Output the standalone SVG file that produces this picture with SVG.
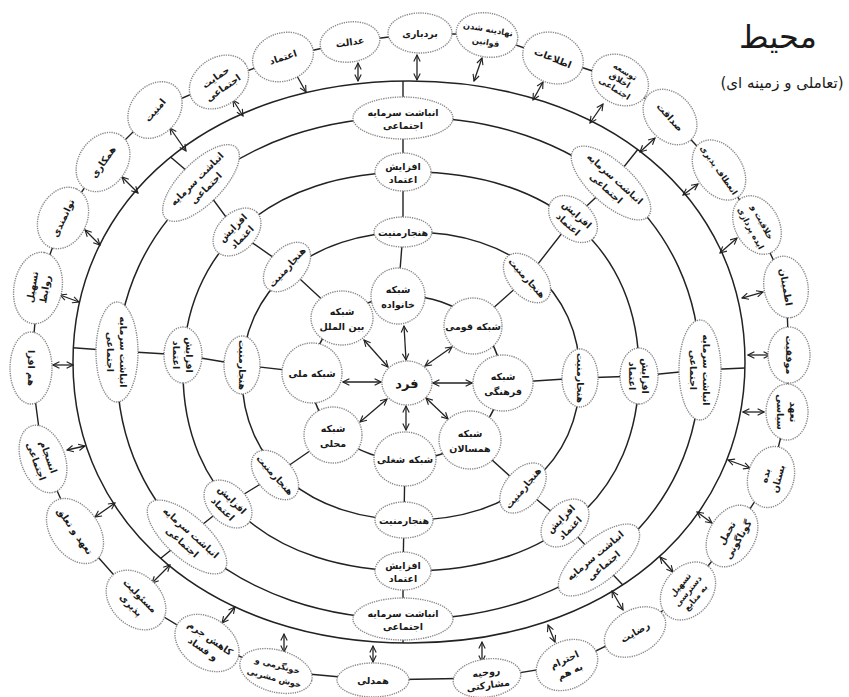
<svg xmlns="http://www.w3.org/2000/svg" width="849" height="697" viewBox="0 0 849 697">
<style>
.ring{fill:none;stroke:#222;stroke-width:1.5}
.ln{fill:none;stroke:#222;stroke-width:1.4}
.arr{fill:none;stroke:#222;stroke-width:1.3;marker-start:url(#ah);marker-end:url(#ah)}
.n ellipse{fill:#fff;stroke:#8a8a8a;stroke-width:1.4;stroke-dasharray:1.3 1}
.n text{font-family:"DejaVu Sans",sans-serif;font-weight:bold;font-size:9.5px;fill:#1a1a1a;text-anchor:middle;dominant-baseline:central}
.n text.big{font-size:13px}
.n text.sm{font-size:8.3px}
.ttl{font-family:"DejaVu Sans",sans-serif;fill:#1a1a1a;text-anchor:middle}
</style>
<defs>
<marker id="ah" viewBox="0 0 10 10" refX="9" refY="5" markerWidth="8" markerHeight="8" markerUnits="userSpaceOnUse" orient="auto-start-reverse">
<path d="M1,1 L9,5 L1,9" fill="none" stroke="#222" stroke-width="1.4"/>
</marker>
<clipPath id="outerClip"><path d="M745,362 C745,526.4 605.6,643 409,643 C212.4,643 73,526.4 73,362 C73,197.6 212.4,81 409,81 C605.6,81 745,197.6 745,362Z"/></clipPath>
</defs>
<rect width="849" height="697" fill="#fff"/>

<g id="title">
<text class="ttl" x="778" y="48" font-size="32">محیط</text>
<text class="ttl" x="782" y="88" font-size="15" direction="rtl">(تعاملی و زمینه ای)</text>
</g>

<g id="rings">
<path class="ring" d="M745,362 C745,526.4 605.6,643 409,643 C212.4,643 73,526.4 73,362 C73,197.6 212.4,81 409,81 C605.6,81 745,197.6 745,362Z"/>
<path class="ring" d="M700,368 C700,514.8 579,619 408.5,619 C238,619 117,514.8 117,368 C117,221.2 238,117 408.5,117 C579,117 700,221.2 700,368Z"/>
<path class="ring" d="M639,371.5 C639,494.2 551.2,571 411,571 C270.8,571 183,494.2 183,371.5 C183,248.8 270.8,172 411,172 C551.2,172 639,248.8 639,371.5Z"/>
<path class="ring" d="M580,376 C580,462.4 512.4,520 411,520 C309.6,520 242,462.4 242,376 C242,289.6 309.6,232 411,232 C512.4,232 580,289.6 580,376Z"/>
<ellipse class="ring" cx="406" cy="378" rx="95" ry="82"/>
</g>

<g id="connectors">
<polygon class="ln" points="420,33 487,35 553,58 620,80 670,117 719,170 757,225 786,287 789,355 787,412 771,477 732,536 688,591 635,632 567,665 487,678 373,680 276,671 207,643 136,600 75,531 43,459 31,368 38,288 63,218 103,162 155,110 219,82 283,57 350,42"/>
<g clip-path="url(#outerClip)">
<polyline class="ln" points="403,60 403,117 403,172 403,232 398,296"/>
<polyline class="ln" points="655,128 611,183 573,219 527,278 473,326"/>
<polyline class="ln" points="770,367 700,370 639,376 580,378 503,383"/>
<polyline class="ln" points="640,603 599,560 565,523 523,488 470,440"/>
<polyline class="ln" points="403,665 403,619 403,571 404,520 405,459"/>
<polyline class="ln" points="150,567 187,537 228,504 275,475 333,435"/>
<polyline class="ln" points="50,346 117,351 183,355 242,365 312,373"/>
<polyline class="ln" points="160,148 201,183 237,232 287,267 342,318"/>
</g>
<path class="arr" d="M417,55 L417,80"/>
<path class="arr" d="M482,58 L474,81"/>
<path class="arr" d="M543,82 L533,100"/>
<path class="arr" d="M603,104 L590,123"/>
<path class="arr" d="M655,138 L640,152"/>
<path class="arr" d="M698,184 L683,195"/>
<path class="arr" d="M737,238 L720,253"/>
<path class="arr" d="M763,292 L742,298"/>
<path class="arr" d="M770,355 L748,355"/>
<path class="arr" d="M764,412 L743,412"/>
<path class="arr" d="M750,468 L728,460"/>
<path class="arr" d="M712,523 L697,512"/>
<path class="arr" d="M673,572 L660,557"/>
<path class="arr" d="M623,610 L612,591"/>
<path class="arr" d="M555,642 L548,625"/>
<path class="arr" d="M482,662 L482,642"/>
<path class="arr" d="M373,662 L373,646"/>
<path class="arr" d="M284,652 L284,634"/>
<path class="arr" d="M222,623 L235,607"/>
<path class="arr" d="M152,583 L170,565"/>
<path class="arr" d="M95,517 L115,503"/>
<path class="arr" d="M67,450 L85,446"/>
<path class="arr" d="M53,365 L73,365"/>
<path class="arr" d="M60,295 L79,302"/>
<path class="arr" d="M85,230 L100,245"/>
<path class="arr" d="M122,177 L138,193"/>
<path class="arr" d="M170,128 L186,151"/>
<path class="arr" d="M233,100 L243,116"/>
<path class="arr" d="M293,69 L306,92"/>
<path class="arr" d="M358,63 L358,81"/>
<path class="arr" d="M406,360 L404,326"/>
<path class="arr" d="M425,366 L452,347"/>
<path class="arr" d="M433,383 L472,383"/>
<path class="arr" d="M426,398 L448,419"/>
<path class="arr" d="M406,406 L406,430"/>
<path class="arr" d="M387,399 L360,422"/>
<path class="arr" d="M381,382 L343,382"/>
<path class="arr" d="M388,367 L364,340"/>
</g>

<!-- ring 2 -->
<g class="n" id="r2-t" transform="translate(403,118)"><ellipse rx="50" ry="21"/><text y="-6">انباشت سرمایه</text><text y="7">اجتماعی</text></g>
<g class="n" id="r2-ur" transform="translate(611,183) rotate(42)"><ellipse rx="50" ry="21"/><text y="-6">انباشت سرمایه</text><text y="7">اجتماعی</text></g>
<g class="n" id="r2-r" transform="translate(700,370) rotate(90)"><ellipse rx="50" ry="21"/><text y="-6">انباشت سرمایه</text><text y="7">اجتماعی</text></g>
<g class="n" id="r2-lr" transform="translate(599,560) rotate(-40)"><ellipse rx="50" ry="21"/><text y="-6">انباشت سرمایه</text><text y="7">اجتماعی</text></g>
<g class="n" id="r2-b" transform="translate(403,619)"><ellipse rx="50" ry="21"/><text y="-6">انباشت سرمایه</text><text y="7">اجتماعی</text></g>
<g class="n" id="r2-ll" transform="translate(187,537) rotate(42)"><ellipse rx="50" ry="21"/><text y="-6">انباشت سرمایه</text><text y="7">اجتماعی</text></g>
<g class="n" id="r2-l" transform="translate(117,352) rotate(90)"><ellipse rx="50" ry="21"/><text y="-6">انباشت سرمایه</text><text y="7">اجتماعی</text></g>
<g class="n" id="r2-ul" transform="translate(201,183) rotate(-45)"><ellipse rx="50" ry="21"/><text y="-6">انباشت سرمایه</text><text y="7">اجتماعی</text></g>

<!-- ring 3 -->
<g class="n" id="r3-t" transform="translate(403,172)"><ellipse rx="28" ry="19"/><text y="-6">افزایش</text><text y="7">اعتماد</text></g>
<g class="n" id="r3-ur" transform="translate(573,219) rotate(42)"><ellipse rx="28" ry="19"/><text y="-6">افزایش</text><text y="7">اعتماد</text></g>
<g class="n" id="r3-r" transform="translate(639,376) rotate(90)"><ellipse rx="28" ry="19"/><text y="-6">افزایش</text><text y="7">اعتماد</text></g>
<g class="n" id="r3-lr" transform="translate(565,523) rotate(-45)"><ellipse rx="28" ry="19"/><text y="-6">افزایش</text><text y="7">اعتماد</text></g>
<g class="n" id="r3-b" transform="translate(403,571)"><ellipse rx="28" ry="19"/><text y="-6">افزایش</text><text y="7">اعتماد</text></g>
<g class="n" id="r3-ll" transform="translate(228,504) rotate(45)"><ellipse rx="28" ry="19"/><text y="-6">افزایش</text><text y="7">اعتماد</text></g>
<g class="n" id="r3-l" transform="translate(183,355) rotate(90)"><ellipse rx="28" ry="19"/><text y="-6">افزایش</text><text y="7">اعتماد</text></g>
<g class="n" id="r3-ul" transform="translate(237,232) rotate(-45)"><ellipse rx="28" ry="19"/><text y="-6">افزایش</text><text y="7">اعتماد</text></g>

<!-- ring 4 -->
<g class="n" id="r4-t" transform="translate(403,232)"><ellipse rx="29" ry="15"/><text>هنجارمنیت</text></g>
<g class="n" id="r4-ur" transform="translate(527,278) rotate(48)"><ellipse rx="29" ry="18"/><text>هنجارمنیت</text></g>
<g class="n" id="r4-r" transform="translate(580,378) rotate(90)"><ellipse rx="29" ry="18"/><text>هنجارمنیت</text></g>
<g class="n" id="r4-lr" transform="translate(523,488) rotate(-50)"><ellipse rx="29" ry="18"/><text>هنجارمنیت</text></g>
<g class="n" id="r4-b" transform="translate(404,520)"><ellipse rx="29" ry="18"/><text>هنجارمنیت</text></g>
<g class="n" id="r4-ll" transform="translate(275,475) rotate(48)"><ellipse rx="29" ry="18"/><text>هنجارمنیت</text></g>
<g class="n" id="r4-l" transform="translate(242,365) rotate(90)"><ellipse rx="29" ry="18"/><text>هنجارمنیت</text></g>
<g class="n" id="r4-ul" transform="translate(287,267) rotate(-48)"><ellipse rx="29" ry="18"/><text>هنجارمنیت</text></g>

<!-- ring 5 -->
<g class="n" id="net-family" transform="translate(398,296)"><ellipse rx="27" ry="28"/><text y="-7">شبکه</text><text y="8">خانواده</text></g>
<g class="n" id="net-ethnic" transform="translate(473,326)"><ellipse rx="29" ry="28"/><text>شبکه قومی</text></g>
<g class="n" id="net-cultural" transform="translate(503,383)"><ellipse rx="30" ry="28"/><text y="-7">شبکه</text><text y="8">فرهنگی</text></g>
<g class="n" id="net-peers" transform="translate(470,440)"><ellipse rx="31" ry="29"/><text y="-7">شبکه</text><text y="8">همسالان</text></g>
<g class="n" id="net-job" transform="translate(405,459)"><ellipse rx="31" ry="27"/><text>شبکه شغلی</text></g>
<g class="n" id="net-local" transform="translate(333,435)"><ellipse rx="29" ry="28"/><text y="-7">شبکه</text><text y="8">محلی</text></g>
<g class="n" id="net-national" transform="translate(312,373)"><ellipse rx="30" ry="30"/><text>شبکه ملی</text></g>
<g class="n" id="net-intl" transform="translate(342,318)"><ellipse rx="31" ry="27"/><text y="-7">شبکه</text><text y="8">بین الملل</text></g>
<g class="n" id="fard" transform="translate(407,383)"><ellipse rx="25" ry="22"/><text class="big">فرد</text></g>

<!-- outer nodes -->
<g class="n" id="o1" transform="translate(420,33)"><ellipse rx="32" ry="20"/><text>بردباری</text></g>
<g class="n" id="o2" transform="translate(487,35) rotate(10)"><ellipse rx="31" ry="22"/><text class="sm" y="-6">نهادینه شدن</text><text class="sm" y="7">قوانین</text></g>
<g class="n" id="o3" transform="translate(553,58) rotate(22)"><ellipse rx="31" ry="25"/><text>اطلاعات</text></g>
<g class="n" id="o4" transform="translate(620,80) rotate(32)"><ellipse rx="30" ry="24"/><text class="sm" y="-10">توسعه</text><text class="sm" y="0">اخلاق</text><text class="sm" y="10">اجتماعی</text></g>
<g class="n" id="o5" transform="translate(670,117) rotate(48)"><ellipse rx="31" ry="23"/><text>صداقت</text></g>
<g class="n" id="o6" transform="translate(719,170) rotate(55)"><ellipse rx="33" ry="23"/><text class="sm">انعطاف پذیری</text></g>
<g class="n" id="o7" transform="translate(757,225) rotate(62)"><ellipse rx="31" ry="22"/><text class="sm" y="-6">خلاقیت و</text><text class="sm" y="7">ایده پردازی</text></g>
<g class="n" id="o8" transform="translate(786,287) rotate(80)"><ellipse rx="31" ry="22"/><text>اطمینان</text></g>
<g class="n" id="o9" transform="translate(789,355) rotate(90)"><ellipse rx="28" ry="21"/><text>موفقیت</text></g>
<g class="n" id="o10" transform="translate(787,412) rotate(90)"><ellipse rx="28" ry="21"/><text y="-6">تعهد</text><text y="7">سیاسی</text></g>
<g class="n" id="o11" transform="translate(771,477) rotate(-75)"><ellipse rx="31" ry="23"/><text y="-6">بده</text><text y="7">بستان</text></g>
<g class="n" id="o12" transform="translate(732,536) rotate(-60)"><ellipse rx="33" ry="23"/><text y="-6">تحمل</text><text y="7">گوناگونی</text></g>
<g class="n" id="o13" transform="translate(688,591) rotate(-50)"><ellipse rx="32" ry="24"/><text class="sm" y="-10">تسهیل</text><text class="sm" y="0">دسترسی</text><text class="sm" y="10">به منابع</text></g>
<g class="n" id="o14" transform="translate(635,632) rotate(-30)"><ellipse rx="33" ry="22"/><text>رضایت</text></g>
<g class="n" id="o15" transform="translate(567,665) rotate(-25)"><ellipse rx="32" ry="24"/><text y="-6">احترام</text><text y="7">به هم</text></g>
<g class="n" id="o16" transform="translate(487,678) rotate(-8)"><ellipse rx="34" ry="19"/><text y="-6">روحیه</text><text y="7">مشارکتی</text></g>
<g class="n" id="o17" transform="translate(373,680)"><ellipse rx="36" ry="17"/><text>همدلی</text></g>
<g class="n" id="o18" transform="translate(276,671) rotate(15)"><ellipse rx="37" ry="21"/><text class="sm" y="-6">خونگرمی و</text><text class="sm" y="7">خوش مشربی</text></g>
<g class="n" id="o19" transform="translate(207,643) rotate(35)"><ellipse rx="35" ry="25"/><text y="-6">کاهش جرم</text><text y="7">و فساد</text></g>
<g class="n" id="o20" transform="translate(136,600) rotate(45)"><ellipse rx="34" ry="25"/><text y="-6">مسئولیت</text><text y="7">پذیری</text></g>
<g class="n" id="o21" transform="translate(75,531) rotate(55)"><ellipse rx="36" ry="24"/><text>تعهد و تعلق</text></g>
<g class="n" id="o22" transform="translate(43,459) rotate(70)"><ellipse rx="35" ry="22"/><text y="-6">انسجام</text><text y="7">اجتماعی</text></g>
<g class="n" id="o23" transform="translate(31,368) rotate(90)"><ellipse rx="36" ry="21"/><text>هم افزا</text></g>
<g class="n" id="o24" transform="translate(38,288) rotate(-80)"><ellipse rx="36" ry="24"/><text y="-6">تسهیل</text><text y="7">روابط</text></g>
<g class="n" id="o25" transform="translate(63,218) rotate(-65)"><ellipse rx="32" ry="24"/><text>توانمندی</text></g>
<g class="n" id="o26" transform="translate(103,162) rotate(-55)"><ellipse rx="32" ry="24"/><text>همکاری</text></g>
<g class="n" id="o27" transform="translate(155,110) rotate(-50)"><ellipse rx="31" ry="24"/><text>امنیت</text></g>
<g class="n" id="o28" transform="translate(219,82) rotate(-35)"><ellipse rx="32" ry="24"/><text y="-6">حمایت</text><text y="7">اجتماعی</text></g>
<g class="n" id="o29" transform="translate(283,57) rotate(-18)"><ellipse rx="31" ry="24"/><text>اعتماد</text></g>
<g class="n" id="o30" transform="translate(350,42) rotate(-8)"><ellipse rx="30" ry="20"/><text>عدالت</text></g>
</svg>
